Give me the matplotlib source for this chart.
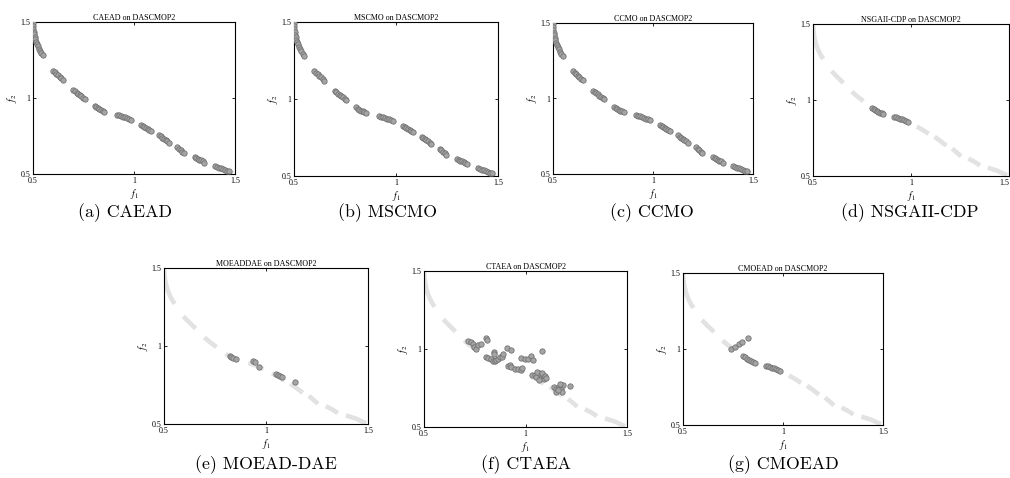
import numpy as np
import matplotlib
matplotlib.use("Agg")
import matplotlib.pyplot as plt

W, H = 1010, 478
plt.rcParams['font.family'] = ['Liberation Serif', 'DejaVu Serif']
plt.rcParams['mathtext.fontset'] = 'stix'

# ---------------- data ----------------
NAN = float('nan')
# true Pareto front (disconnected segments, separated by NaN)
pf_f1 = [0.500, 0.502, 0.506, 0.512, 0.520, 0.530, 0.540, 0.552, NAN,
         0.595, 0.625, 0.655, NAN,
         0.698, 0.725, 0.757, NAN,
         0.802, 0.830, 0.858, NAN,
         0.913, 0.950, 0.988, NAN,
         1.030, 1.060, 1.090, NAN,
         1.120, 1.150, 1.180, NAN,
         1.210, 1.232, 1.255, NAN,
         1.293, 1.322, 1.352, NAN,
         1.392, 1.440, 1.490]
pf_f2 = [1.500, 1.460, 1.420, 1.385, 1.350, 1.320, 1.295, 1.270, NAN,
         1.190, 1.150, 1.112, NAN,
         1.055, 1.025, 0.993, NAN,
         0.950, 0.925, 0.908, NAN,
         0.890, 0.876, 0.853, NAN,
         0.825, 0.803, 0.778, NAN,
         0.758, 0.730, 0.700, NAN,
         0.680, 0.656, 0.630, NAN,
         0.614, 0.595, 0.570, NAN,
         0.555, 0.535, 0.505]

caead_f1 = [0.500, 0.501, 0.502, 0.504, 0.506, 0.509, 0.512, 0.516, 0.520, 0.525, 0.530, 0.536, 0.542, 0.548,
            0.600, 0.608, 0.616, 0.624, 0.632, 0.640, 0.648,
            0.700, 0.708, 0.716, 0.724, 0.732, 0.740, 0.748, 0.755,
            0.805, 0.813, 0.821, 0.829, 0.837, 0.845, 0.853,
            0.915, 0.925, 0.935, 0.945, 0.955, 0.965, 0.975, 0.985,
            1.035, 1.043, 1.051, 1.059, 1.067, 1.075, 1.083,
            1.125, 1.133, 1.141, 1.149, 1.157, 1.165, 1.173,
            1.215, 1.223, 1.231, 1.239, 1.247,
            1.300, 1.308, 1.316, 1.324, 1.332, 1.340, 1.348,
            1.400, 1.410, 1.420, 1.430, 1.440, 1.450, 1.460, 1.470]
caead_f2 = [1.495, 1.475, 1.455, 1.435, 1.418, 1.400, 1.385, 1.370, 1.355, 1.340, 1.325, 1.310, 1.295, 1.280,
            1.180, 1.170, 1.160, 1.150, 1.140, 1.130, 1.120,
            1.052, 1.043, 1.035, 1.027, 1.018, 1.010, 1.002, 0.995,
            0.945, 0.938, 0.931, 0.925, 0.920, 0.915, 0.910,
            0.888, 0.885, 0.881, 0.877, 0.872, 0.867, 0.861, 0.855,
            0.822, 0.816, 0.810, 0.804, 0.797, 0.790, 0.783,
            0.755, 0.748, 0.740, 0.733, 0.725, 0.717, 0.707,
            0.676, 0.667, 0.657, 0.647, 0.637,
            0.610, 0.605, 0.600, 0.595, 0.589, 0.583, 0.575,
            0.552, 0.547, 0.542, 0.537, 0.532, 0.527, 0.522, 0.517]

mscmo_f1 = caead_f1
mscmo_f2 = caead_f2
ccmo_f1 = caead_f1
ccmo_f2 = caead_f2

nsga_f1 = [0.802, 0.810, 0.818, 0.826, 0.834, 0.842, 0.850, 0.858,
           0.915, 0.925, 0.935, 0.945, 0.955, 0.965, 0.975, 0.985]
nsga_f2 = [0.950, 0.942, 0.935, 0.928, 0.921, 0.916, 0.912, 0.908,
           0.890, 0.886, 0.882, 0.878, 0.873, 0.868, 0.862, 0.856]

moeaddae_f1 = [0.822, 0.830, 0.838, 0.852, 0.935, 0.948, 0.965, 1.050, 1.060, 1.070, 1.080, 1.142]
moeaddae_f2 = [0.935, 0.928, 0.922, 0.918, 0.905, 0.898, 0.868, 0.818, 0.812, 0.806, 0.800, 0.770]

ctaea_f1 = [0.718, 0.730, 0.739, 0.746, 0.756, 0.767, 0.779, 0.805, 0.811,
            0.805, 0.816, 0.828, 0.838, 0.849, 0.857, 0.844, 0.846, 0.866, 0.874, 0.882, 0.890, 0.910, 0.931,
            0.915, 0.923, 0.931, 0.948, 0.964, 0.980, 0.985,
            0.980, 0.997, 1.013, 1.025, 1.038, 1.079,
            1.034, 1.046, 1.054, 1.067, 1.074, 1.084, 1.090, 1.067, 1.057, 1.079, 1.095, 1.100,
            1.139, 1.152, 1.166, 1.177, 1.185, 1.172, 1.152, 1.182, 1.160, 1.218]
ctaea_f2 = [1.050, 1.042, 1.029, 1.014, 1.003, 1.025, 1.035, 1.072, 1.059,
            0.950, 0.943, 0.935, 0.926, 0.922, 0.928, 0.982, 0.965, 0.939, 0.950, 0.946, 0.965, 1.007, 0.992,
            0.892, 0.896, 0.885, 0.875, 0.870, 0.864, 0.879,
            0.943, 0.939, 0.935, 0.956, 0.928, 0.986,
            0.832, 0.836, 0.821, 0.843, 0.815, 0.832, 0.810, 0.800, 0.853, 0.849, 0.828, 0.815,
            0.757, 0.746, 0.757, 0.742, 0.768, 0.778, 0.725, 0.725, 0.735, 0.763]

cmoead_f1 = [0.742, 0.760, 0.778, 0.796, 0.825,
             0.800, 0.810, 0.820, 0.830, 0.840, 0.850, 0.858,
             0.915, 0.925, 0.935, 0.945, 0.955, 0.965, 0.975, 0.983]
cmoead_f2 = [1.000, 1.015, 1.030, 1.045, 1.075,
             0.955, 0.945, 0.935, 0.927, 0.920, 0.914, 0.911,
             0.890, 0.886, 0.882, 0.878, 0.873, 0.868, 0.862, 0.858]

titles = ['CAEAD on DASCMOP2', 'MSCMO on DASCMOP2', 'CCMO on DASCMOP2', 'NSGAII-CDP on DASCMOP2',
          'MOEADDAE on DASCMOP2', 'CTAEA on DASCMOP2', 'CMOEAD on DASCMOP2']
captions = ['(a) CAEAD', '(b) MSCMO', '(c) CCMO', '(d) NSGAII-CDP',
            '(e) MOEAD-DAE', '(f) CTAEA', '(g) CMOEAD']
series = [(caead_f1, caead_f2), (mscmo_f1, mscmo_f2), (ccmo_f1, ccmo_f2), (nsga_f1, nsga_f2),
          (moeaddae_f1, moeaddae_f2), (ctaea_f1, ctaea_f2), (cmoead_f1, cmoead_f2)]
ticks = [0.5, 1, 1.5]
tick_labels = ['0.5', '1', '1.5']

# axes boxes in pixels: left, right, top, bottom
boxes = [(33, 235, 22, 174), (294, 498, 22, 176), (553, 753, 23, 174), (813, 1009, 24, 176),
         (164, 368, 268, 424), (424, 627, 271, 427), (683, 883, 273, 425)]
cap_y = [213, 213, 213, 213, 465, 465, 465]
cap_x = [125, 388, 652, 910, 266, 526, 783]

fig = plt.figure(figsize=(W / 100, H / 100), dpi=100)
fig.patch.set_facecolor('white')

for i, (l, r, t, b) in enumerate(boxes):
    ax = fig.add_axes([l / W, 1 - b / H, (r - l) / W, (b - t) / H])
    ax.plot(pf_f1, pf_f2, color='#e2e2e2', lw=3.3, solid_capstyle='butt', zorder=1)
    f1, f2 = series[i]
    ax.scatter(f1, f2, s=15, facecolor='#a4a4a4', edgecolor='#6e6e6e', linewidths=0.55, zorder=3)
    ax.set_xlim(0.5, 1.5)
    ax.set_ylim(0.5, 1.5)
    ax.set_xticks(ticks)
    ax.set_xticklabels(tick_labels)
    ax.set_yticks(ticks)
    ax.set_yticklabels(tick_labels)
    ax.tick_params(direction='in', top=True, right=True, length=2.5, width=0.6,
                   labelsize=5.8, pad=2)
    for sp in ax.spines.values():
        sp.set_linewidth(0.8)
    ax.set_title(titles[i], fontsize=5.8, pad=1.5)
    ax.set_xlabel(r'$f_1$', fontsize=7, labelpad=1.5)
    ax.set_ylabel(r'$f_2$', fontsize=7, labelpad=1)
    if i == 3:
        ax.get_xticklabels()[-1].set_horizontalalignment('right')
    fig.text(cap_x[i] / W, 1 - cap_y[i] / H, captions[i], family='cmr10', fontsize=12.8,
             ha='center', va='center')

fig.savefig('out.png', dpi=100, facecolor='white')
